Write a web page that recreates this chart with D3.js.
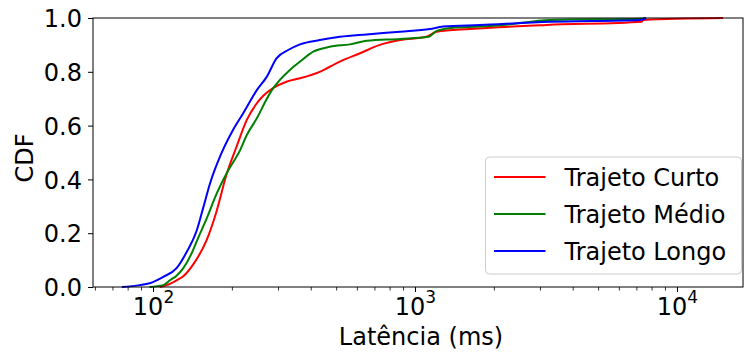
<!DOCTYPE html>
<html lang="pt">
<head>
  <meta charset="UTF-8">
  <title>CDF latência</title>
  <style>
    body { margin: 0; background: #fff; }
    svg text { font-family: "DejaVu Sans", sans-serif; fill: #000; }
    .tick text { font-size: 24px; }
    .axislabel { font-size: 24px; }
    .legend-label { font-size: 24px; }
  </style>
</head>
<body>
  <div id="chart"></div>
  <script src="https://d3js.org/d3.v7.min.js"></script>
  <script>

    // ## Data
    const seriesNames = ["Trajeto Curto", "Trajeto Médio", "Trajeto Longo"];
    const seriesColors = ["#ff0000", "#008000", "#0000ff"];

    const latCurto = [106, 112.7, 123, 130.5, 142.6, 160.3, 174.6, 191, 209, 228, 249, 263, 288, 323, 364, 433, 517, 617, 734, 877, 1105, 1210, 1620, 3180, 7340, 7450, 15000];
    const cdfCurto = [0, 0.007, 0.025, 0.04, 0.085, 0.175, 0.28, 0.42, 0.525, 0.621, 0.683, 0.71, 0.74, 0.763, 0.776, 0.8, 0.838, 0.869, 0.9, 0.918, 0.93, 0.949, 0.959, 0.974, 0.986, 0.993, 1.0];

    const latMedio = [97, 109.5, 116, 123, 130.5, 142.6, 146.8, 160.3, 174.6, 191, 215, 228, 249, 272, 288, 305, 333, 364, 409, 473, 565, 654, 877, 1127, 1210, 1400, 1770, 2160, 3280, 7400, 7600];
    const cdfMedio = [0, 0.007, 0.025, 0.042, 0.07, 0.14, 0.17, 0.255, 0.345, 0.423, 0.509, 0.565, 0.627, 0.7, 0.74, 0.77, 0.807, 0.838, 0.875, 0.893, 0.902, 0.915, 0.922, 0.93, 0.952, 0.964, 0.968, 0.974, 0.993, 0.997, 1.0];

    const latLongo = [76, 89, 97, 109.5, 123, 134.4, 146.8, 155.5, 165, 182, 202, 221, 249, 272, 296, 328, 364, 433, 517, 654, 877, 1140, 1280, 1770, 3280, 7230, 7630];
    const cdfLongo = [0, 0.007, 0.014, 0.038, 0.07, 0.13, 0.21, 0.295, 0.385, 0.495, 0.584, 0.646, 0.732, 0.782, 0.85, 0.881, 0.902, 0.918, 0.93, 0.939, 0.949, 0.959, 0.968, 0.974, 0.986, 0.993, 1.0];

    const yTicks = [0, 0.2, 0.4, 0.6, 0.8, 1.0];
    const xDecades = [2, 3, 4];

    // ## Dimensions
    let dimensions = {
      width: 745,
      height: 353,
      margin: {top: 18, right: 2, bottom: 66, left: 93}
    };
    dimensions.boundedWidth = dimensions.width - dimensions.margin.left - dimensions.margin.right;
    dimensions.boundedHeight = dimensions.height - dimensions.margin.top - dimensions.margin.bottom;

    const svg = d3.select("#chart")
      .append("svg")
        .attr("width", dimensions.width)
        .attr("height", dimensions.height);

    const bounds = svg.append("g")
        .attr("transform", `translate(${dimensions.margin.left},${dimensions.margin.top})`);

    // ## Scales
    const xScale = d3.scaleLog()
        .domain([59, 17870])
        .range([0, dimensions.boundedWidth]);

    const yScale = d3.scaleLinear()
        .domain([0, 1])
        .range([dimensions.boundedHeight, 0]);

    // ## Data lines
    const series = [
      {lat: latCurto, cdf: cdfCurto},
      {lat: latMedio, cdf: cdfMedio},
      {lat: latLongo, cdf: cdfLongo}
    ];

    const line = d3.line()
        .x(d => xScale(d[0]))
        .y(d => yScale(d[1]))
        .curve(d3.curveMonotoneX);

    series.forEach((s, i) => {
      bounds.append("path")
        .datum(d3.zip(s.lat, s.cdf))
        .attr("fill", "none")
        .attr("stroke", seriesColors[i])
        .attr("stroke-width", 2)
        .attr("stroke-linejoin", "round")
        .attr("d", line);
    });

    // ## Axes
    // minor ticks for the log axis
    const minorTicks = [];
    for (let e = 1; e <= 4; e++) {
      for (let m = 2; m <= 9; m++) {
        const v = m * Math.pow(10, e);
        if (v >= 59 && v <= 17870) minorTicks.push(v);
      }
    }

    bounds.append("g")
        .attr("transform", `translate(0,${dimensions.boundedHeight})`)
        .call(d3.axisBottom(xScale).tickValues(minorTicks).tickSize(3.5).tickFormat(""))
        .call(g => g.select(".domain").remove())
        .call(g => g.selectAll("line").attr("stroke-width", 0.8));

    const xAxis = bounds.append("g")
        .attr("transform", `translate(0,${dimensions.boundedHeight})`)
        .call(d3.axisBottom(xScale)
          .tickValues(xDecades.map(e => Math.pow(10, e)))
          .tickSize(5)
          .tickFormat(""))
        .call(g => g.select(".domain").remove());

    xAxis.selectAll(".tick").each(function(d, i) {
      const t = d3.select(this).append("text")
          .attr("y", 28)
          .attr("text-anchor", "middle")
          .attr("fill", "#000");
      t.append("tspan").style("font-size", "24px").text("10");
      t.append("tspan").style("font-size", "17px").attr("dy", -12).text(xDecades[i]);
    });

    bounds.append("g")
        .call(d3.axisLeft(yScale)
          .tickValues(yTicks)
          .tickSize(5)
          .tickPadding(6)
          .tickFormat(d3.format(".1f")))
        .call(g => g.select(".domain").remove())
        .call(g => g.selectAll(".tick text").attr("dy", "0.36em"));

    // frame (spines)
    bounds.append("rect")
        .attr("width", dimensions.boundedWidth)
        .attr("height", dimensions.boundedHeight)
        .attr("fill", "none")
        .attr("stroke", "#000")
        .attr("stroke-width", 1);

    // axis labels
    svg.append("text")
        .attr("class", "axislabel")
        .attr("x", dimensions.margin.left + dimensions.boundedWidth / 2 + 3)
        .attr("y", 345)
        .attr("text-anchor", "middle")
        .text("Latência (ms)");

    svg.append("text")
        .attr("class", "axislabel")
        .attr("transform", "translate(33,158) rotate(-90)")
        .attr("text-anchor", "middle")
        .text("CDF");

    // ## Legend
    const legend = svg.append("g")
        .attr("transform", "translate(485.5,157)");

    legend.append("rect")
        .attr("width", 256)
        .attr("height", 117)
        .attr("rx", 4)
        .attr("fill", "#fff")
        .attr("fill-opacity", 0.8)
        .attr("stroke", "#cccccc");

    seriesNames.forEach((name, i) => {
      const y = 20 + i * 37;
      legend.append("line")
        .attr("x1", 8.5).attr("x2", 60)
        .attr("y1", y).attr("y2", y)
        .attr("stroke", seriesColors[i])
        .attr("stroke-width", 2);
      legend.append("text")
        .attr("class", "legend-label")
        .attr("x", 79)
        .attr("y", y + 8.5)
        .text(name);
    });

  </script>
</body>
</html>
